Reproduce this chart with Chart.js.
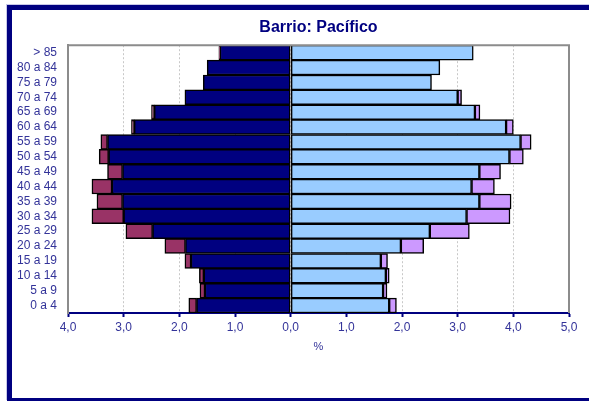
<!DOCTYPE html>
<html>
<head>
<meta charset="utf-8">
<script src="https://cdn.jsdelivr.net/npm/chart.js@4/dist/chart.umd.min.js"></script>
<style>
	html, body { margin: 0; padding: 0; background: #fff; overflow: hidden; }
	#wrap { position: relative; width: 589px; height: 401px; }
	#frame {
		position: absolute; left: 7px; top: 5px; width: 640px; height: 388px;
		border-top: 5px solid #000080; border-left: 5px solid #000080; border-bottom: 3px solid #000080;
		box-shadow: -1px -1px 0 #c8c8e8;
	}
	#chart { position: absolute; left: 0; top: 0; }
</style>
</head>
<body>
<div id="wrap">
	<div id="frame"></div>
	<canvas id="chart" width="589" height="401"></canvas>
</div>
<script>
// age groups, top to bottom
const categories = ['> 85', '80 a 84', '75 a 79', '70 a 74', '65 a 69', '60 a 64', '55 a 59', '50 a 54', '45 a 49',
	'40 a 44', '35 a 39', '30 a 34', '25 a 29', '20 a 24', '15 a 19', '10 a 14', '5 a 9', '0 a 4'];

// left side (%), drawn to the left of zero
const men_base  = [1.27, 1.50, 1.57, 1.90, 2.45, 2.81, 3.29, 3.27, 3.02, 3.21, 3.02, 3.00, 2.48, 1.89, 1.79, 1.56, 1.54, 1.69];
const men_extra = [0.02, 0.00, 0.00, 0.00, 0.05, 0.05, 0.12, 0.17, 0.27, 0.36, 0.46, 0.57, 0.48, 0.37, 0.11, 0.08, 0.09, 0.14];

// right side (%)
const women_base  = [3.28, 2.68, 2.53, 3.00, 3.31, 3.87, 4.13, 3.93, 3.39, 3.25, 3.39, 3.16, 2.50, 1.98, 1.62, 1.71, 1.66, 1.77];
const women_extra = [0.00, 0.00, 0.00, 0.07, 0.09, 0.13, 0.19, 0.25, 0.38, 0.41, 0.57, 0.78, 0.71, 0.41, 0.12, 0.06, 0.07, 0.13];

const x_min = -4;
const x_max = 5;

const font_family = "'Liberation Sans', Arial, sans-serif";
const label_color = '#333399';

function bar_set(values, color){
	return {
		data: values,
		backgroundColor: color,
		borderColor: '#000000',
		borderWidth: 1.5,
		borderSkipped: false,
		barPercentage: 1,
		categoryPercentage: 1
	};
}

// grey frame round the plot area
const plot_frame = {
	id: 'plot_frame',
	afterDatasetsDraw(chart){
		const a = chart.chartArea;
		const ctx = chart.ctx;
		ctx.save();
		ctx.strokeStyle = '#8c8c8c';
		ctx.lineWidth = 2;
		ctx.beginPath();
		ctx.moveTo(a.left, a.bottom);
		ctx.lineTo(a.left, a.top);
		ctx.lineTo(a.right, a.top);
		ctx.lineTo(a.right, a.bottom);
		ctx.stroke();
		ctx.restore();
	}
};

new Chart(document.getElementById('chart').getContext('2d'), {
	type: 'bar',
	data: {
		labels: categories,
		datasets: [
			bar_set(men_base.map(v => -v), '#000080'),
			bar_set(men_extra.map(v => -v), '#993366'),
			bar_set(women_base, '#99ccff'),
			bar_set(women_extra, '#cc99ff')
		]
	},
	options: {
		indexAxis: 'y',
		responsive: false,
		animation: false,
		layout: {
			padding: { left: 13, right: 20, top: 18, bottom: 43 }
		},
		plugins: {
			legend: { display: false },
			tooltip: { enabled: false },
			title: {
				display: true,
				fullSize: false,
				text: 'Barrio: Pacífico',
				color: '#000080',
				font: { family: font_family, size: 16, weight: 'bold' },
				padding: { top: 0, bottom: 8 }
			}
		},
		scales: {
			x: {
				stacked: true,
				min: x_min,
				max: x_max,
				afterFit: function(scale){ scale.height = 45; },
				ticks: {
					stepSize: 1,
					padding: 3,
					color: label_color,
					font: { family: font_family, size: 12 },
					callback: function(v){ return Math.abs(v).toFixed(1).replace('.', ','); }
				},
				grid: {
					color: '#c8c8c8',
					lineWidth: 1,
					drawTicks: true,
					tickLength: 4,
					tickColor: '#000080',
					tickWidth: 2
				},
				border: { display: true, color: '#000080', width: 2, dash: [2, 2] },
				title: {
					display: true,
					text: '%',
					color: label_color,
					font: { family: font_family, size: 11 },
					padding: { top: 0, bottom: 4 }
				}
			},
			y: {
				stacked: true,
				afterFit: function(scale){ scale.width = 55; },
				ticks: {
					autoSkip: false,
					padding: 11,
					color: label_color,
					font: { family: font_family, size: 12 }
				},
				grid: { display: false, drawTicks: false },
				border: { display: true, color: '#8c8c8c', width: 2 }
			}
		}
	},
	plugins: [plot_frame]
});
</script>
</body>
</html>
